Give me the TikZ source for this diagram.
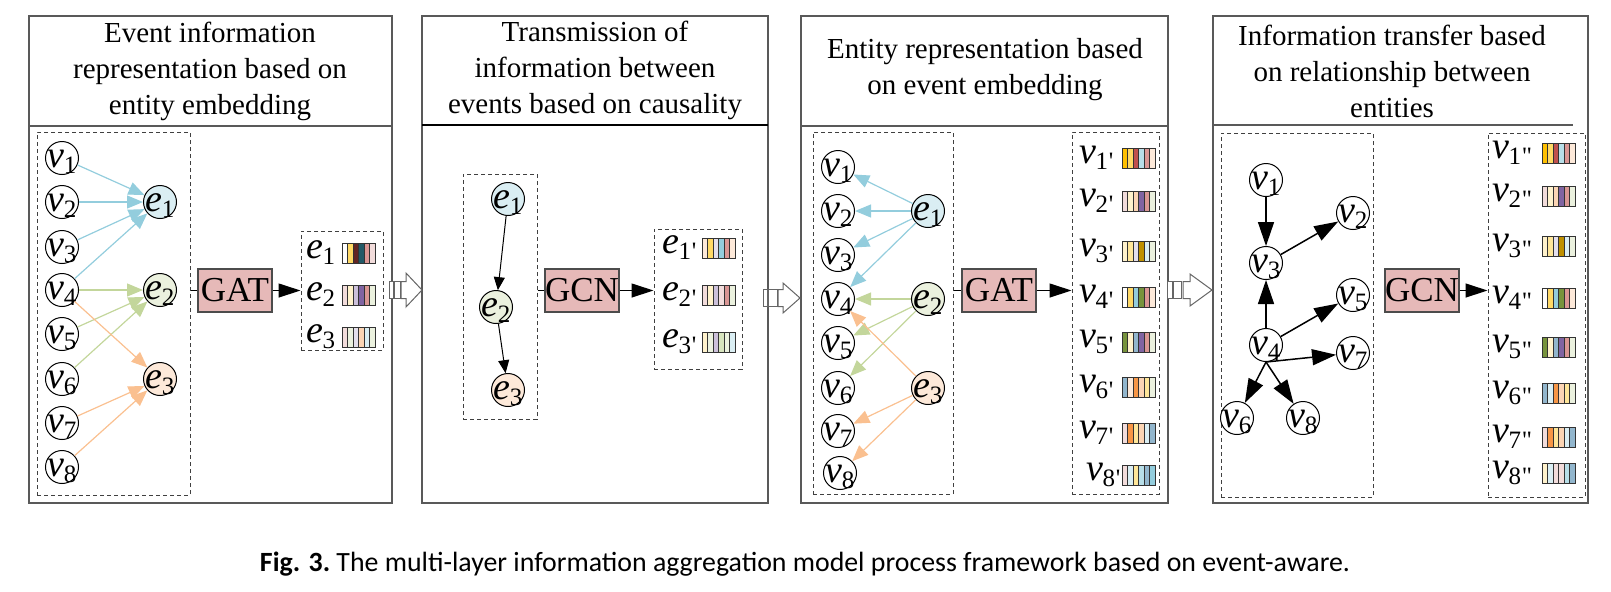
\documentclass[tikz,border=0pt]{standalone}
\usepackage{fontspec}
\usepackage{graphicx}
\setmainfont{Liberation Serif}
\newfontfamily\rawserif[Ligatures=TeXOff]{Liberation Serif}
\newfontfamily\capfont{Carlito}
\usetikzlibrary{arrows.meta,fit}
\definecolor{lblue}{HTML}{93CDDD}
\definecolor{lgreen}{HTML}{C3D69B}
\definecolor{lorange}{HTML}{FAC090}
\definecolor{fblue}{HTML}{DAEEF3}
\definecolor{fgreen}{HTML}{EBF1DE}
\definecolor{forange}{HTML}{FDE9D9}
\definecolor{opfill}{HTML}{E6B9B8}
\definecolor{cWh}{HTML}{FFFFFF}
\definecolor{cPk}{HTML}{F2DCDB}
\definecolor{cCr}{HTML}{FFF2CC}
\definecolor{cLav}{HTML}{CCC0DA}
\definecolor{cLavB}{HTML}{E4DFEC}
\definecolor{cPur}{HTML}{8064A2}
\definecolor{cRose}{HTML}{D99694}
\definecolor{cPgr}{HTML}{EBF1DE}
\definecolor{cPch}{HTML}{FDE9D9}
\definecolor{cPeach}{HTML}{FCD5B4}
\definecolor{cOr}{HTML}{F79646}
\definecolor{cGold}{HTML}{FFC000}
\definecolor{cYel}{HTML}{FFD966}
\definecolor{cYelB}{HTML}{FFE699}
\definecolor{cRed}{HTML}{C0504D}
\definecolor{cCy}{HTML}{B7DEE8}
\definecolor{cCyB}{HTML}{DAEEF3}
\definecolor{cBl}{HTML}{93CDDD}
\definecolor{cSteel}{HTML}{92B6CD}
\definecolor{cDkBr}{HTML}{632523}
\definecolor{cTeal}{HTML}{215967}
\definecolor{cOl}{HTML}{77933C}
\definecolor{cDkGold}{HTML}{BF9000}
\definecolor{cGrB}{HTML}{D7E4BD}
\newcommand\lab[2]{{\fontsize{19pt}{19pt}\selectfont\itshape #1}\kern-0.3pt\raisebox{-3pt}{\fontsize{12.5pt}{12.5pt}\selectfont #2}}
\newcommand\inlab[2]{\makebox[0pt]{\raisebox{-4.75pt}[0pt][0pt]{\lab{#1}{#2}}}}
\newcommand\spr{{\rawserif\kern0.3pt'}}
\newcommand\dpr{{\rawserif\kern0.3pt"}}
\newcommand\embbar[3]{%
  \foreach \cc [count=\ii from 0] in {#3}{\fill[fill=\cc] ({#1+\ii*5.5},{#2-10}) rectangle ++(5.5,20);}
  \foreach \ii in {0,...,5}{\draw[black!80,line width=0.4pt] ({#1+\ii*5.5},{#2-10}) rectangle ++(5.5,20);}
}
\newcommand\hollowarrow[8]{% yc, r1a, r1b, r2b, s0, s1, tip, headhalf
  \draw[harrow] (#2,#1-8.5) rectangle (#3,#1+8.5);
  \draw[harrow] (#3+1,#1-8.5) rectangle (#4,#1+8.5);
  \draw[harrow] (#5,#1-8.5) -- (#6,#1-8.5) -- (#6,#1-#8) -- (#7,#1) -- (#6,#1+#8) -- (#6,#1+8.5) -- (#5,#1+8.5) -- cycle;
}
\begin{document}
\begin{tikzpicture}[x=0.5pt,y=-0.5pt,
  panel/.style={draw=black!65,line width=0.65pt,inner sep=0pt},
  hline/.style={draw=black!65,line width=0.65pt},
  dbox/.style={draw=black!75,dash pattern=on 2pt off 1.5pt,line width=0.5pt,inner sep=0pt},
  vn/.style={circle,draw=black,line width=0.5pt,minimum size=16.5pt,inner sep=0pt,fill=white},
  op/.style={draw=black!70,fill=opfill,line width=0.6pt,minimum width=37pt,minimum height=21.5pt,inner sep=0pt,font=\fontsize{17.5pt}{17.5pt}\selectfont},
  head/.style={align=center,font=\fontsize{14.5pt}{18pt}\selectfont,inner sep=0pt},
  lab/.style={anchor=west,inner sep=0pt},
  eb/.style={draw=lblue,line width=0.6pt,-{Triangle[length=8pt,width=6.5pt]}},
  eg/.style={draw=lgreen,line width=0.6pt,-{Triangle[length=8pt,width=6.5pt]}},
  eo/.style={draw=lorange,line width=0.6pt,-{Triangle[length=8pt,width=6.5pt]}},
  kthin/.style={draw=black,line width=0.5pt,-{Triangle[length=6.5pt,width=5.5pt]}},
  kthick/.style={draw=black,line width=0.75pt,-{Triangle[length=12pt,width=8pt]}},
  outarr/.style={draw=black,line width=0.6pt,-{Triangle[length=11pt,width=7pt]}},
  plain/.style={draw=black,line width=0.6pt},
  harrow/.style={draw=black!60,fill=white,line width=0.5pt}]
\useasboundingbox (0,0) rectangle (1611,591);

% ---------- panels ----------
\coordinate (p1a) at (29,16); \coordinate (p1b) at (392,503);
\coordinate (p2a) at (422,16); \coordinate (p2b) at (768,503);
\coordinate (p3a) at (801,16); \coordinate (p3b) at (1168,503);
\coordinate (p4a) at (1213,16); \coordinate (p4b) at (1588,503);
\node[panel,fit=(p1a)(p1b)] (P1) {};
\node[panel,fit=(p2a)(p2b)] (P2) {};
\node[panel,fit=(p3a)(p3b)] (P3) {};
\node[panel,fit=(p4a)(p4b)] (P4) {};
\draw[hline] (29,126) -- (392,126);
\draw[draw=black,line width=0.9pt] (422,125) -- (768,125);
\draw[hline] (801,126) -- (1168,126);
\draw[hline] (1213,125) -- (1573,125);

\node[head] (h1) at (210,71) {Event information\\representation based on\\entity embedding};
\node[head] (h2) at (595,70) {Transmission of\\information between\\events based on causality};
\node[head] (h3) at (985,70) {Entity representation based\\on event embedding};
\node[head] (h4) at (1392,71) {Information transfer based\\on relationship between\\entities};

% ---------- hollow arrows between panels ----------
\hollowarrow{290}{389}{393}{400}{401}{406}{422}{17}
\hollowarrow{298}{763}{767}{777}{778}{783}{800}{15}
\hollowarrow{290}{1167}{1172}{1181}{1183}{1190}{1212}{16}

% ---------- panel 1 ----------
\coordinate (b1a) at (37,132); \coordinate (b1b) at (190,495);
\node[dbox,fit=(b1a)(b1b)] (B1) {};
\foreach \i/\y in {1/158,2/202,3/247,4/290,5/334,6/379,7/423,8/467}
  \node[vn] (p1v\i) at (62,\y) {\inlab{v}{\i}};
\node[vn,fill=fblue] (p1e1) at (160,202) {\inlab{e}{1}};
\node[vn,fill=fgreen] (p1e2) at (160,290) {\inlab{e}{2}};
\node[vn,fill=forange] (p1e3) at (160,379) {\inlab{e}{3}};
\foreach \i in {1,2,3,4} \draw[eb] (p1v\i) -- (p1e1);
\foreach \i in {4,5,6} \draw[eg] (p1v\i) -- (p1e2);
\foreach \i in {4,7,8} \draw[eo] (p1v\i) -- (p1e3);
\node[op] (gat1) at (235,290.5) {GAT};
\coordinate (o1a) at (301,231); \coordinate (o1b) at (383,350);
\node[dbox,fit=(o1a)(o1b)] (O1) {};
\draw[plain] (B1.east |- gat1.west) -- (gat1.west);
\draw[outarr] (gat1.east) -- (O1.west |- gat1.east);
\node[lab] (p1o1) at (306,253) {\lab{e}{1}};
\node[lab] (p1o2) at (306,295) {\lab{e}{2}};
\node[lab] (p1o3) at (306,337) {\lab{e}{3}};
\embbar{342}{253}{cWh,cYel,cDkBr,cTeal,cRose,cPk}
\embbar{342}{295}{cPk,cCr,cLav,cPur,cRose,cPgr}
\embbar{342}{337}{cPk,cPgr,cLavB,cPeach,cCyB,cPgr}

% ---------- panel 2 ----------
\coordinate (b2a) at (463,174); \coordinate (b2b) at (537,419);
\node[dbox,fit=(b2a)(b2b)] (B2) {};
\node[vn,fill=fblue] (p2e1) at (508,199) {\inlab{e}{1}};
\node[vn,fill=fgreen] (p2e2) at (496,307) {\inlab{e}{2}};
\node[vn,fill=forange] (p2e3) at (508,390) {\inlab{e}{3}};
\draw[kthin] (p2e1) -- (p2e2);
\draw[kthin] (p2e2) -- (p2e3);
\node[op] (gcn2) at (582,290.5) {GCN};
\coordinate (o2a) at (654,229); \coordinate (o2b) at (742,369);
\node[dbox,fit=(o2a)(o2b)] (O2) {};
\draw[plain] (B2.east |- gcn2.west) -- (gcn2.west);
\draw[outarr] (gcn2.east) -- (O2.west |- gcn2.east);
\node[lab] (p2o1) at (662,248) {\lab{e}{1\spr}};
\node[lab] (p2o2) at (662,295) {\lab{e}{2\spr}};
\node[lab] (p2o3) at (662,342) {\lab{e}{3\spr}};
\embbar{702}{248}{cPch,cYel,cLavB,cBl,cRose,cPch}
\embbar{702}{295}{cPk,cCr,cLav,cPk,cRose,cPgr}
\embbar{702}{342}{cCr,cPgr,cLav,cGrB,cPgr,cCyB}

% ---------- panel 3 ----------
\coordinate (b3a) at (813,132); \coordinate (b3b) at (953,494);
\node[dbox,fit=(b3a)(b3b)] (B3) {};
\foreach \i/\x/\y in {1/838/167,2/838/211,3/838/255,4/838/299,5/838/343,6/838/388,7/838/431,8/840/473}
  \node[vn] (p3v\i) at (\x,\y) {\inlab{v}{\i}};
\node[vn,fill=fblue] (p3e1) at (928,211) {\inlab{e}{1}};
\node[vn,fill=fgreen] (p3e2) at (928,299) {\inlab{e}{2}};
\node[vn,fill=forange] (p3e3) at (928,388) {\inlab{e}{3}};
\foreach \i in {1,2,3,4} \draw[eb] (p3e1) -- (p3v\i);
\foreach \i in {4,5,6} \draw[eg] (p3e2) -- (p3v\i);
\foreach \i in {4,7,8} \draw[eo] (p3e3) -- (p3v\i);
\node[op] (gat3) at (999,290.5) {GAT};
\coordinate (o3a) at (1072,132); \coordinate (o3b) at (1159,494);
\node[dbox,fit=(o3a)(o3b)] (O3) {};
\draw[plain] (B3.east |- gat3.west) -- (gat3.west);
\draw[outarr] (gat3.east) -- (O3.west |- gat3.east);
\foreach \i/\x/\y in {1/1079/158,2/1079/201,3/1079/251,4/1079/297,5/1079/342,6/1079/387,7/1079/433,8/1086/475}
  \node[lab] (p3o\i) at (\x,\y) {\lab{v}{\i\spr}};
\embbar{1122}{158}{cGold,cYel,cRed,cCy,cRose,cPch}
\embbar{1122}{201}{cPk,cCr,cPeach,cPur,cRose,cPgr}
\embbar{1122}{251}{cCr,cYelB,cLavB,cDkGold,cCyB,cPgr}
\embbar{1122}{297}{cWh,cYel,cBl,cOl,cRose,cPch}
\embbar{1122}{342}{cOl,cCr,cSteel,cPur,cRose,cPgr}
\embbar{1122}{387}{cSteel,cPch,cOr,cPeach,cYelB,cPgr}
\embbar{1122}{433}{cPk,cOr,cYelB,cPeach,cCyB,cSteel}
\embbar{1122}{475}{cPk,cCyB,cYelB,cCy,cSteel,cBl}

% ---------- panel 4 ----------
\coordinate (b4a) at (1221,133); \coordinate (b4b) at (1373,497);
\node[dbox,fit=(b4a)(b4b)] (B4) {};
\node[vn] (p4v1) at (1266,180) {\inlab{v}{1}};
\node[vn] (p4v2) at (1353,213) {\inlab{v}{2}};
\node[vn] (p4v3) at (1266,263) {\inlab{v}{3}};
\node[vn] (p4v5) at (1353,295) {\inlab{v}{5}};
\node[vn] (p4v4) at (1266,345) {\inlab{v}{4}};
\node[vn] (p4v7) at (1353,353) {\inlab{v}{7}};
\node[vn] (p4v6) at (1237,418) {\inlab{v}{6}};
\node[vn] (p4v8) at (1303,418) {\inlab{v}{8}};
\draw[kthick] (p4v1) -- (p4v3);
\draw[kthick] (p4v3) -- (p4v2);
\draw[kthick] (p4v4) -- (p4v3);
\draw[kthick] (p4v4) -- (p4v5);
\draw[kthick] (p4v4.south) -- (p4v7);
\draw[kthick] (p4v4.south) -- (p4v6);
\draw[kthick] (p4v4.south) -- (p4v8);
\node[op] (gcn4) at (1422,290.5) {GCN};
\coordinate (o4a) at (1488,133); \coordinate (o4b) at (1585,497);
\node[dbox,fit=(o4a)(o4b)] (O4) {};
\draw[outarr] (gcn4.east) -- (O4.west |- gcn4.east);
\foreach \i/\y in {1/153,2/196,3/246,4/298,5/347,6/393,7/437,8/473}
  \node[lab] (p4o\i) at (1492,\y) {\lab{v}{\i\dpr}};
\embbar{1542}{153}{cGold,cYel,cRed,cCy,cRose,cPch}
\embbar{1542}{196}{cPk,cCr,cPeach,cPur,cRose,cPgr}
\embbar{1542}{246}{cCr,cYelB,cLavB,cDkGold,cCyB,cPgr}
\embbar{1542}{298}{cWh,cYel,cBl,cOl,cRose,cPch}
\embbar{1542}{347}{cOl,cCr,cSteel,cPur,cRose,cPgr}
\embbar{1542}{393}{cSteel,cCyB,cOr,cPeach,cYelB,cPgr}
\embbar{1542}{437}{cPk,cOr,cYelB,cPeach,cCyB,cSteel}
\embbar{1542}{473}{cCr,cCyB,cPk,cPk,cCy,cSteel}

% ---------- caption ----------
\node[inner sep=0pt] (cap) at (805,564) {\resizebox{545pt}{!}{\capfont\textbf{Fig. 3.}\ The multi-layer information aggregation model process framework based on event-aware.}};
\end{tikzpicture}
\end{document}
